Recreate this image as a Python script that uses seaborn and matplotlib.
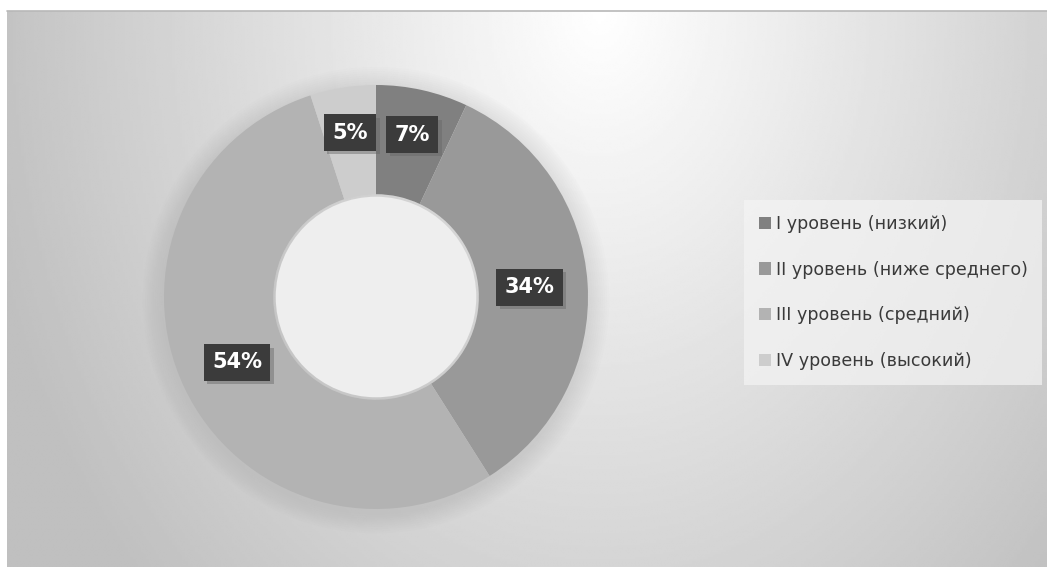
import numpy as np
import matplotlib
matplotlib.use("Agg")
import matplotlib.pyplot as plt
import matplotlib.patheffects as pe
from matplotlib.patches import Circle, Rectangle
import seaborn as sns

# Distribution of levels (percent)
levels = ["I уровень (низкий)", "II уровень (ниже среднего)",
          "III уровень (средний)", "IV уровень (высокий)"]
shares = [7, 34, 54, 5]
level_colors = ["#808080", "#999999", "#b3b3b3", "#cdcdcd"]

sns.set_theme(style="white")
plt.rcParams["font.family"] = ["DejaVu Sans"]

W, H = 1047, 567
fig = plt.figure(figsize=(W / 100, H / 100), dpi=100, facecolor="white")

# ---- chart-area background: soft radial gradient ----
x0, y0 = 7, 11
bg = fig.add_axes([x0 / W, 0, (W - x0) / W, (H - y0) / H])
bg.set_axis_off()
xs = np.linspace(x0, W, 400)
ys = np.linspace(y0, H, 240)
X, Y = np.meshgrid(xs, ys)
d = np.sqrt(((X - 600) / 720) ** 2 + ((Y - 10) / 950) ** 2)
val = np.clip(255 - 72 * d, 192, 255) / 255.0
bg.imshow(val, cmap="gray", vmin=0, vmax=1, extent=[0, 1, 0, 1],
          aspect="auto", origin="upper", interpolation="bilinear")
bg.plot([0, 1], [1, 1], color="#b8b8b8", lw=1.2, transform=bg.transAxes,
        clip_on=False)
bg.set_xlim(0, 1)
bg.set_ylim(0, 1)

# ---- donut ----
cx, cy, R = 376, 297, 212
half = 250
ax = fig.add_axes([(cx - half) / W, (H - cy - half) / H, 2 * half / W, 2 * half / H])
ax.set_axis_off()
lim = half / R

# faint shadow around the ring
for i in range(10):
    r = 1.0 + 0.01 * (10 - i)
    ax.add_patch(Circle((0.0, -0.015), r, color="#9a9a9a", alpha=0.022, lw=0))

wedges, _ = ax.pie(shares, colors=level_colors, startangle=90, counterclock=False,
                   radius=1.0, wedgeprops=dict(width=0.515, linewidth=0))
ax.set_xlim(-lim, lim)
ax.set_ylim(-lim, lim)
ax.set_aspect("equal")

# hole
hole_r = 1.0 - 0.515
for i in range(4):
    ax.add_patch(Circle((0.0, 0.0), hole_r - 0.004 * i, color="#dedede",
                        alpha=0.08, lw=0, zorder=3))
ax.add_patch(Circle((0.0, 0.0), hole_r - 0.012, color="#eeeeee", lw=0, zorder=3))

# value labels in dark boxes
for w, v in zip(wedges, shares):
    mid = np.deg2rad((w.theta1 + w.theta2) / 2)
    rr = 0.785 if v < 10 else 0.725
    t = ax.text(rr * np.cos(mid), rr * np.sin(mid), f"{v}%",
                ha="center", va="center", color="white", fontsize=15,
                fontweight="bold", zorder=6,
                bbox=dict(boxstyle="square,pad=0.4", fc="#3b3b3b", ec="none"))
    t.get_bbox_patch().set_path_effects(
        [pe.SimplePatchShadow(offset=(2.5, -2.5), shadow_rgbFace="#666666", alpha=0.45),
         pe.Normal()])

# ---- legend ----
handles = [Rectangle((0, 0), 1, 1, fc=c, ec="none") for c in level_colors]
leg = fig.legend(handles, levels, loc="upper left",
                 bbox_to_anchor=(744 / W, 1 - 200 / H),
                 frameon=True, fontsize=12.6, labelcolor="#3a3a3a",
                 handlelength=0.7, handleheight=0.7, handletextpad=0.25,
                 labelspacing=1.58, borderpad=0.85, borderaxespad=0)
frame = leg.get_frame()
frame.set_facecolor("#f4f4f4")
frame.set_alpha(0.7)
frame.set_edgecolor("none")
frame.set_boxstyle("square", pad=0)

fig.savefig("out.png", dpi=100, facecolor="white")
